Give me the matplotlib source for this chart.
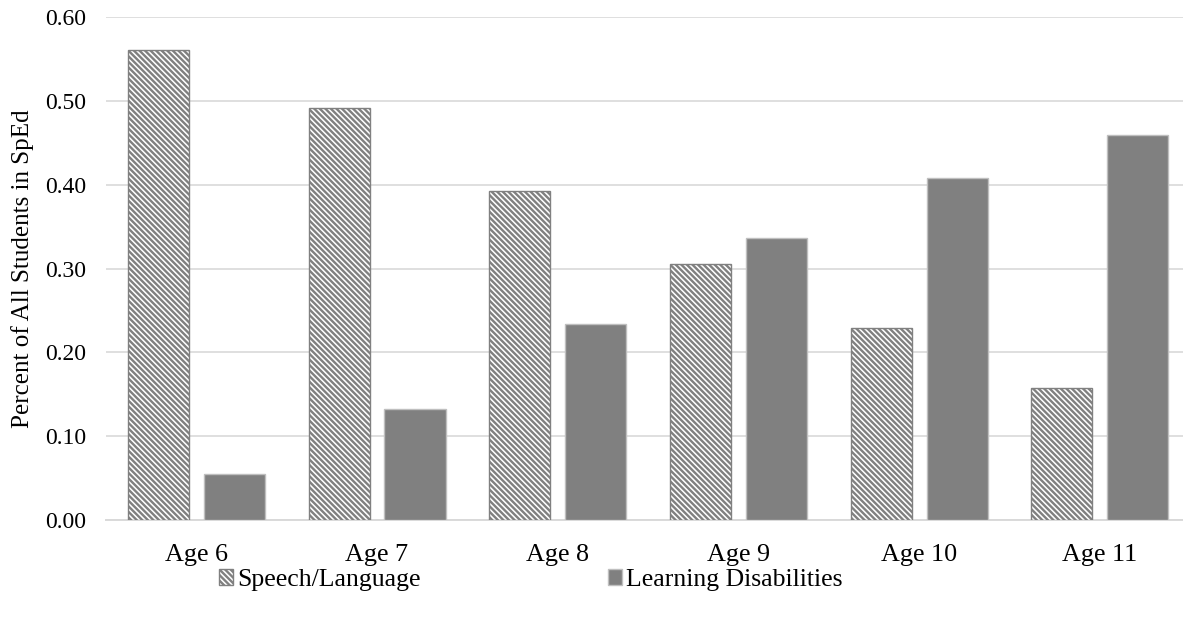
import matplotlib
matplotlib.use("Agg")
import matplotlib.pyplot as plt
import numpy as np

ages = ["Age 6", "Age 7", "Age 8", "Age 9", "Age 10", "Age 11"]
speech_language = [0.561, 0.492, 0.393, 0.306, 0.229, 0.158]
learning_disabilities = [0.055, 0.133, 0.234, 0.336, 0.408, 0.459]
y_ticks = [0.0, 0.1, 0.2, 0.3, 0.4, 0.5, 0.6]

plt.rcParams["font.family"] = ["Liberation Serif", "DejaVu Serif"]
plt.rcParams["hatch.linewidth"] = 1.7

W, H = 1183, 627
fig = plt.figure(figsize=(W / 100, H / 100), dpi=100)
left_px, right_px, top_px, bottom_px = 106, 1183, 17.3, 520
ax = fig.add_axes([left_px / W, (H - bottom_px) / H,
                   (right_px - left_px) / W, (bottom_px - top_px) / H])

x = np.arange(len(ages))
width = 0.338
offset = 0.21

ax.bar(x - offset, speech_language, width, facecolor="white",
       edgecolor="#808080", hatch="\\" * 6, linewidth=1.0,
       label="Speech/Language", zorder=3)
ax.bar(x + offset, learning_disabilities, width, facecolor="#808080",
       edgecolor="#BFBFBF", linewidth=1.0,
       label="Learning Disabilities", zorder=3)

ax.set_xlim(-0.5, -0.5 + (right_px - left_px) / 180.7)
ax.set_ylim(0, 0.6)
ax.set_yticks(y_ticks)
ax.set_yticklabels([f"{v:.2f}" for v in y_ticks])
ax.set_xticks(x)
ax.set_xticklabels(ages)

ax.yaxis.grid(True, color="#D9D9D9", linewidth=1.2, zorder=0)
ax.set_axisbelow(True)
for s in ["left", "right", "top"]:
    ax.spines[s].set_visible(False)
ax.spines["bottom"].set_color("#D9D9D9")
ax.spines["bottom"].set_linewidth(1.4)

ax.tick_params(axis="both", length=0, colors="black")
ax.tick_params(axis="y", pad=14, labelsize=17)
ax.tick_params(axis="x", pad=17, labelsize=18.8)

ax.set_ylabel("Percent of All Students in SpEd", fontsize=18.1, labelpad=8)

fig.legend(loc="center", bbox_to_anchor=(531 / W, (H - 580) / H), ncol=2,
           frameon=False, fontsize=18.5, handlelength=0.55, handleheight=0.55,
           handletextpad=0.15, columnspacing=7.3)

fig.savefig("out.png", dpi=100)
